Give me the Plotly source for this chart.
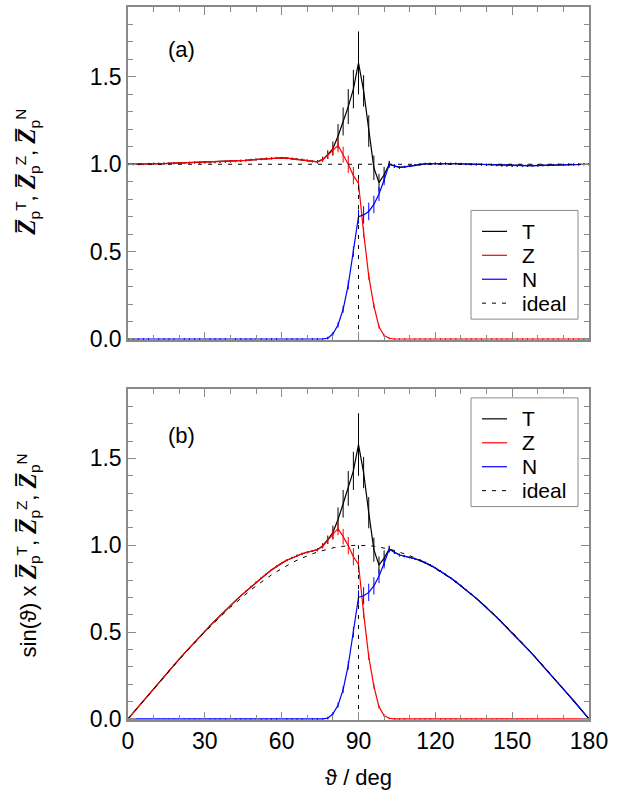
import plotly.graph_objects as go

# ---------------- data ----------------
theta = [0, 2, 4, 6, 8, 10, 12, 14, 16, 18, 20, 22, 24, 26, 28, 30, 32, 34, 36, 38,
         40, 42, 44, 46, 48, 50, 52, 54, 56, 58, 60, 62, 64, 66, 68, 70, 72, 74, 76, 78,
         80, 82, 84, 86, 88, 90, 92, 94, 96, 98, 100, 102, 104, 106, 108, 110, 112, 114, 116, 118,
         120, 122, 124, 126, 128, 130, 132, 134, 136, 138, 140, 142, 144, 146, 148, 150, 152, 154, 156, 158,
         160, 162, 164, 166, 168, 170, 172, 174, 176, 178, 180]

Z_mean = [1.000, 1.000, 1.001, 1.001, 1.002, 1.003, 1.003, 1.004, 1.005, 1.006, 1.007, 1.007, 1.008, 1.009, 1.009, 1.010, 1.011, 1.012, 1.013, 1.014,
          1.016, 1.018, 1.020, 1.022, 1.025, 1.027, 1.030, 1.032, 1.034, 1.036, 1.036, 1.035, 1.032, 1.029, 1.026, 1.021, 1.017, 1.014, 1.025, 1.050,
          1.080, 1.108, 1.055, 1.000, 0.935, 0.890, 0.610, 0.360, 0.190, 0.070, 0.020, 0.004, 0.0, 0.0, 0.0, 0.0, 0.0, 0.0, 0.0, 0.0,
          0.0, 0.0, 0.0, 0.0, 0.0, 0.0, 0.0, 0.0, 0.0, 0.0, 0.0, 0.0, 0.0, 0.0, 0.0, 0.0, 0.0, 0.0, 0.0, 0.0,
          0.0, 0.0, 0.0, 0.0, 0.0, 0.0, 0.0, 0.0, 0.0, 0.0, 0.0]

N_mean = [0.0, 0.0, 0.0, 0.0, 0.0, 0.0, 0.0, 0.0, 0.0, 0.0, 0.0, 0.0, 0.0, 0.0, 0.0, 0.0, 0.0, 0.0, 0.0, 0.0,
          0.0, 0.0, 0.0, 0.0, 0.0, 0.0, 0.0, 0.0, 0.0, 0.0, 0.0, 0.0, 0.0, 0.0, 0.0, 0.0, 0.0, 0.0, 0.0, 0.005,
          0.030, 0.080, 0.170, 0.310, 0.500, 0.700, 0.710, 0.730, 0.770, 0.830, 0.910, 1.000, 0.990, 0.982, 0.985, 0.990, 0.995, 0.999, 1.002, 1.003,
          1.004, 1.004, 1.004, 1.003, 1.003, 1.002, 1.001, 1.000, 0.999, 0.998, 0.997, 0.996, 0.995, 0.993, 0.992, 0.991, 0.991, 0.991, 0.992, 0.992,
          0.993, 0.994, 0.995, 0.996, 0.997, 0.997, 0.998, 0.999, 0.999, 1.000, 1.000]

T_mean = [1.000, 1.000, 1.001, 1.001, 1.002, 1.003, 1.003, 1.004, 1.005, 1.006, 1.007, 1.007, 1.008, 1.009, 1.009, 1.010, 1.011, 1.012, 1.013, 1.014,
          1.016, 1.018, 1.020, 1.022, 1.025, 1.027, 1.030, 1.032, 1.034, 1.036, 1.036, 1.035, 1.032, 1.029, 1.026, 1.021, 1.017, 1.014, 1.028, 1.055,
          1.090, 1.160, 1.245, 1.330, 1.430, 1.580, 1.420, 1.190, 0.980, 0.895, 0.940, 1.000, 0.990, 0.982, 0.985, 0.990, 0.995, 0.999, 1.002, 1.003,
          1.004, 1.004, 1.004, 1.003, 1.003, 1.002, 1.001, 1.000, 0.999, 0.998, 0.997, 0.996, 0.995, 0.993, 0.992, 0.991, 0.991, 0.991, 0.992, 0.992,
          0.993, 0.994, 0.995, 0.996, 0.997, 0.997, 0.998, 0.999, 0.999, 1.000, 1.000]

Z_err = [0.006, 0.006, 0.006, 0.006, 0.006, 0.006, 0.006, 0.006, 0.006, 0.006, 0.006, 0.006, 0.006, 0.006, 0.006, 0.006, 0.006, 0.006, 0.006, 0.006,
         0.006, 0.006, 0.006, 0.006, 0.006, 0.006, 0.006, 0.006, 0.006, 0.006, 0.006, 0.006, 0.006, 0.006, 0.006, 0.006, 0.006, 0.008, 0.012, 0.020,
         0.030, 0.040, 0.045, 0.050, 0.050, 0.045, 0.030, 0.020, 0.015, 0.010, 0.008, 0.006, 0.005, 0.005, 0.005, 0.005, 0.005, 0.005, 0.005, 0.005,
         0.005, 0.005, 0.005, 0.005, 0.005, 0.005, 0.005, 0.005, 0.005, 0.005, 0.005, 0.005, 0.005, 0.005, 0.005, 0.005, 0.005, 0.005, 0.005, 0.005,
         0.005, 0.005, 0.005, 0.005, 0.005, 0.005, 0.005, 0.005, 0.005, 0.005, 0.005]

N_err = [0.005, 0.005, 0.005, 0.005, 0.005, 0.005, 0.005, 0.005, 0.005, 0.005, 0.005, 0.005, 0.005, 0.005, 0.005, 0.005, 0.005, 0.005, 0.005, 0.005,
         0.005, 0.005, 0.005, 0.005, 0.005, 0.005, 0.005, 0.005, 0.005, 0.005, 0.005, 0.005, 0.005, 0.005, 0.005, 0.005, 0.005, 0.005, 0.005, 0.008,
         0.010, 0.015, 0.020, 0.025, 0.030, 0.040, 0.050, 0.050, 0.050, 0.040, 0.030, 0.015, 0.010, 0.008, 0.006, 0.006, 0.006, 0.006, 0.006, 0.006,
         0.006, 0.006, 0.006, 0.006, 0.006, 0.006, 0.006, 0.006, 0.006, 0.006, 0.006, 0.006, 0.006, 0.006, 0.006, 0.006, 0.006, 0.006, 0.006, 0.006,
         0.006, 0.006, 0.006, 0.006, 0.006, 0.006, 0.006, 0.006, 0.006, 0.006, 0.006]

T_err = [0.006, 0.006, 0.006, 0.006, 0.006, 0.006, 0.006, 0.006, 0.006, 0.006, 0.006, 0.006, 0.006, 0.006, 0.006, 0.006, 0.006, 0.006, 0.006, 0.006,
         0.006, 0.006, 0.006, 0.006, 0.006, 0.006, 0.006, 0.006, 0.006, 0.006, 0.006, 0.006, 0.006, 0.006, 0.006, 0.006, 0.006, 0.010, 0.015, 0.025,
         0.040, 0.070, 0.080, 0.100, 0.110, 0.180, 0.090, 0.090, 0.070, 0.050, 0.045, 0.020, 0.010, 0.008, 0.006, 0.006, 0.006, 0.006, 0.006, 0.006,
         0.006, 0.006, 0.006, 0.006, 0.006, 0.006, 0.006, 0.006, 0.006, 0.006, 0.006, 0.006, 0.006, 0.006, 0.006, 0.006, 0.006, 0.006, 0.006, 0.006,
         0.006, 0.006, 0.006, 0.006, 0.006, 0.006, 0.006, 0.006, 0.006, 0.006, 0.006]

# sin(theta) weight on the same grid (this is also the "ideal" curve of panel b)
sin_weight = [0.000, 0.035, 0.070, 0.105, 0.139, 0.174, 0.208, 0.242, 0.276, 0.309, 0.342, 0.375, 0.407, 0.438, 0.469, 0.500, 0.530, 0.559, 0.588, 0.616,
              0.643, 0.669, 0.695, 0.719, 0.743, 0.766, 0.788, 0.809, 0.829, 0.848, 0.866, 0.883, 0.899, 0.914, 0.927, 0.940, 0.951, 0.961, 0.970, 0.978,
              0.985, 0.990, 0.995, 0.998, 0.999, 1.000, 0.999, 0.998, 0.995, 0.990, 0.985, 0.978, 0.970, 0.961, 0.951, 0.940, 0.927, 0.914, 0.899, 0.883,
              0.866, 0.848, 0.829, 0.809, 0.788, 0.766, 0.743, 0.719, 0.695, 0.669, 0.643, 0.616, 0.588, 0.559, 0.530, 0.500, 0.469, 0.438, 0.407, 0.375,
              0.342, 0.309, 0.276, 0.242, 0.208, 0.174, 0.139, 0.105, 0.070, 0.035, 0.000]

ideal_flat = [1.0, 1.0]          # ideal total response in panel (a)
ideal_flat_theta = [0, 180]
ideal_step_theta = [90, 90]      # Z -> N hand-over at 90 deg
ideal_step_value = [0.0, 1.0]

series_names = ["T", "Z", "N"]
series_colors = ["#000000", "#ff0000", "#0000ff"]
legend_labels = ["T", "Z", "N", "ideal"]

# panel (b): sin(theta) x values
T_b = [w * v for w, v in zip(sin_weight, T_mean)]
Z_b = [w * v for w, v in zip(sin_weight, Z_mean)]
N_b = [w * v for w, v in zip(sin_weight, N_mean)]
T_be = [w * v for w, v in zip(sin_weight, T_err)]
Z_be = [w * v for w, v in zip(sin_weight, Z_err)]
N_be = [w * v for w, v in zip(sin_weight, N_err)]

FONT = "Liberation Sans"
AXC = "#8a8a8a"
DASH = "4px,6px"

fig = go.Figure()

def add_series(y, e, name, color, xa, ya):
    fig.add_trace(go.Scatter(
        x=theta, y=y, mode="lines", name=name, showlegend=False,
        line=dict(color=color, width=1.2),
        error_y=dict(type="data", array=e, visible=True, color=color, thickness=1, width=0),
        xaxis=xa, yaxis=ya))

def add_ideal(x, y, xa, ya):
    fig.add_trace(go.Scatter(
        x=x, y=y, mode="lines", name="ideal", showlegend=False,
        line=dict(color="#000000", width=1, dash=DASH),
        xaxis=xa, yaxis=ya))

# panel (a)
for y, e, n, c in zip([T_mean, Z_mean, N_mean], [T_err, Z_err, N_err], series_names, series_colors):
    add_series(y, e, n, c, "x", "y")
add_ideal(ideal_flat_theta, ideal_flat, "x", "y")
add_ideal(ideal_step_theta, ideal_step_value, "x", "y")

# panel (b)
for y, e, n, c in zip([T_b, Z_b, N_b], [T_be, Z_be, N_be], series_names, series_colors):
    add_series(y, e, n, c, "x2", "y2")
add_ideal(theta, sin_weight, "x2", "y2")
add_ideal(ideal_step_theta, ideal_step_value, "x2", "y2")

xcommon = dict(range=[0, 180], dtick=30, tick0=0, ticks="inside", ticklen=8, tickcolor=AXC,
               showline=True, linecolor=AXC, linewidth=1.5, mirror="allticks", showgrid=False,
               zeroline=False, tickfont=dict(family=FONT, size=23, color="black"),
               minor=dict(dtick=10, ticks="inside", ticklen=5, tickcolor=AXC, showgrid=False))
ycommon = dict(range=[-0.006, 1.9], dtick=0.5, tick0=0, tickformat=".1f", ticks="inside", ticklen=8,
               tickcolor=AXC, showline=True, linecolor=AXC, linewidth=1.5, mirror="allticks",
               showgrid=False, zeroline=False, tickfont=dict(family=FONT, size=23, color="black"),
               minor=dict(dtick=0.1, ticks="inside", ticklen=5, tickcolor=AXC, showgrid=False))

fig.update_layout(
    width=622, height=807,
    margin=dict(l=128, r=33, t=5, b=87),
    paper_bgcolor="white", plot_bgcolor="white",
    xaxis=dict(**xcommon, domain=[0, 1], anchor="y", showticklabels=False),
    yaxis=dict(**ycommon, domain=[0.5329, 1], anchor="x"),
    xaxis2=dict(**xcommon, domain=[0, 1], anchor="y2"),
    yaxis2=dict(**ycommon, domain=[0, 0.4643], anchor="x2"),
    showlegend=False,
)

# ---- legend boxes drawn in pixel-derived paper coordinates ----
def px(xp):
    return (xp - 128) / 461.0

def py(yp):
    return (720 - yp) / 715.0

legend_colors = series_colors + ["#000000"]
legend_dash = ["solid", "solid", "solid", DASH]
for top in (209, 397):
    fig.add_shape(type="rect", xref="paper", yref="paper",
                  x0=px(471), x1=px(578), y0=py(top), y1=py(top + 109),
                  line=dict(color=AXC, width=1), fillcolor="white", layer="above")
    for i, (lab, col, dsh) in enumerate(zip(legend_labels, legend_colors, legend_dash)):
        yy = top + 21 + 24 * i
        fig.add_shape(type="line", xref="paper", yref="paper",
                      x0=px(482), x1=px(507), y0=py(yy), y1=py(yy),
                      line=dict(color=col, width=1.2 if dsh == "solid" else 1, dash=dsh), layer="above")
        fig.add_annotation(text=lab, x=px(520), y=py(yy), xref="paper", yref="paper",
                           xanchor="left", yanchor="middle", showarrow=False,
                           font=dict(family=FONT, size=21, color="black"))

Zb = '<span style="font-family:Liberation Serif;font-size:25px"><b><i>Z\u0305</i></b></span>'
ytitle_a = f"{Zb}<sub>p</sub><sup>T</sup>, {Zb}<sub>p</sub><sup>Z</sup>, {Zb}<sub>p</sub><sup>N</sup>"
ytitle_b = "sin(\u03d1) x " + ytitle_a

annots = [
    dict(text=ytitle_a, x=-0.217, y=0.769, textangle=-90),
    dict(text=ytitle_b, x=-0.217, y=0.2308, textangle=-90),
    dict(text="\u03d1 / deg", x=0.5, y=-0.081, textangle=0),
    dict(text="(a)", x=0.117, y=0.940, textangle=0),
    dict(text="(b)", x=0.117, y=0.3986, textangle=0),
]
for a in annots:
    fig.add_annotation(text=a["text"], x=a["x"], y=a["y"], xref="paper", yref="paper",
                       xanchor="center", yanchor="middle", textangle=a["textangle"], showarrow=False,
                       font=dict(family=FONT, size=22, color="black"))

fig.write_html("out.html")
